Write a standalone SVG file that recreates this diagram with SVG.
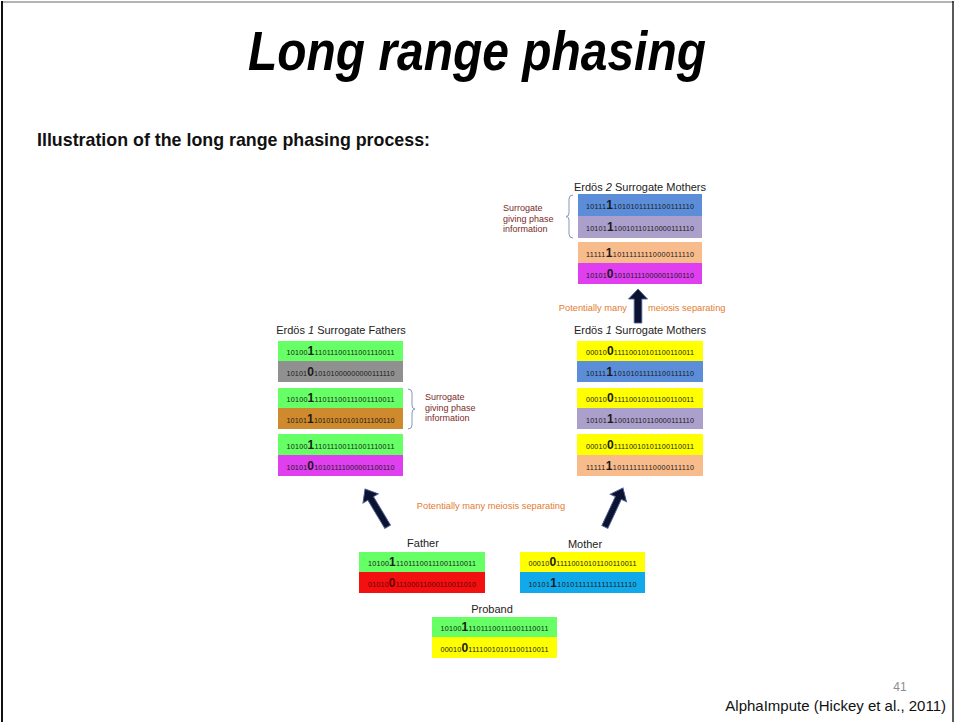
<svg xmlns="http://www.w3.org/2000/svg" width="955" height="722" viewBox="0 0 955 722">
  <defs>
    <style>
      .sans { font-family: "Liberation Sans", Arial, sans-serif; }
      .bits { font-family: "Liberation Sans", Arial, sans-serif; font-size: 7.2px; fill: #1a1a1a; text-anchor: middle; }
      .big { font-size: 12px; font-weight: bold; }
      .head { font-family: "Liberation Sans", Arial, sans-serif; font-size: 11px; fill: #222; text-anchor: middle; }
      .note { font-family: "Liberation Sans", Arial, sans-serif; font-size: 9px; fill: #7a2a2a; }
      .meiosis { font-family: "Liberation Sans", Arial, sans-serif; font-size: 9.3px; fill: #e37b2f; }
      .brace { fill: none; stroke: #8298bb; stroke-width: 1; }
      .arrow { fill: #0b1330; stroke: #4d5f91; stroke-width: 0.9; stroke-linejoin: miter; }
      .green { fill: #66ff66; }
      .gray { fill: #909090; }
      .brown { fill: #cf8a2e; }
      .magenta { fill: #df3fef; }
      .yellow { fill: #ffff00; }
      .steel { fill: #5b8dd9; }
      .lavender { fill: #ab9fcc; }
      .peach { fill: #f8bb8c; }
      .red { fill: #f21010; }
      .cyan { fill: #12a9ea; }
    </style>
  </defs>

  <!-- page frame -->
  <rect x="0" y="0" width="955" height="722" fill="#ffffff"/>
  <line x1="1" y1="2" x2="954" y2="2" stroke="#9a9a9a" stroke-width="1.5"/>
  <line x1="2" y1="1" x2="2" y2="722" stroke="#111" stroke-width="2"/>
  <line x1="953" y1="1" x2="953" y2="722" stroke="#222" stroke-width="1.5"/>

  <!-- headings -->
  <text x="477" y="70" class="sans" font-size="56" font-weight="bold" font-style="italic" text-anchor="middle" textLength="458" lengthAdjust="spacingAndGlyphs" fill="#000">Long range phasing</text>
  <text x="37" y="146" class="sans" font-size="19" font-weight="bold" textLength="393" lengthAdjust="spacingAndGlyphs" fill="#111">Illustration of the long range phasing process:</text>

  <!-- Erdos 2 surrogate mothers -->
  <g id="erdos2-mothers">
    <text x="640" y="191" class="head">Erdös <tspan font-style="italic">2</tspan> Surrogate Mothers</text>
    <rect x="578" y="194" width="124" height="22" class="steel"/>
    <rect x="578" y="216" width="124" height="22" class="lavender"/>
    <rect x="578" y="242" width="124" height="21" class="peach"/>
    <rect x="578" y="263" width="124" height="21" class="magenta"/>
    <text x="640" y="209" class="bits" textLength="108" lengthAdjust="spacing">10111<tspan class="big">1</tspan>10101011111100111110</text>
    <text x="640" y="231" class="bits" textLength="108" lengthAdjust="spacing">10101<tspan class="big">1</tspan>10010110110000111110</text>
    <text x="640" y="256.5" class="bits" textLength="108" lengthAdjust="spacing">11111<tspan class="big">1</tspan>10111111110000111110</text>
    <text x="640" y="277.5" class="bits" textLength="108" lengthAdjust="spacing">10101<tspan class="big">0</tspan>10101111000001100110</text>
    <path class="brace" d="M573 195 Q569 195 569 199 L569 213 Q569 216.5 566 216.5 Q569 216.5 569 220 L569 234 Q569 238 573 238"/>
    <text class="note"><tspan x="503" y="211">Surrogate</tspan><tspan x="503" y="222">giving phase</tspan><tspan x="503" y="232">information</tspan></text>
  </g>

  <!-- Erdos 1 surrogate fathers -->
  <g id="erdos1-fathers">
    <text x="341" y="334" class="head">Erdös <tspan font-style="italic">1</tspan> Surrogate Fathers</text>
    <rect x="278" y="341" width="125" height="20" class="green"/>
    <rect x="278" y="361" width="125" height="21" class="gray"/>
    <rect x="278" y="388" width="125" height="20" class="green"/>
    <rect x="278" y="408" width="125" height="21" class="brown"/>
    <rect x="278" y="434" width="125" height="21" class="green"/>
    <rect x="278" y="455" width="125" height="21" class="magenta"/>
    <text x="340.5" y="355" class="bits" textLength="108" lengthAdjust="spacing">10100<tspan class="big">1</tspan>11011100111001110011</text>
    <text x="340.5" y="375.5" class="bits" textLength="108" lengthAdjust="spacing">10101<tspan class="big">0</tspan>10101000000000111110</text>
    <text x="340.5" y="402" class="bits" textLength="108" lengthAdjust="spacing">10100<tspan class="big">1</tspan>11011100111001110011</text>
    <text x="340.5" y="422.5" class="bits" textLength="108" lengthAdjust="spacing">10101<tspan class="big">1</tspan>10101010101011100110</text>
    <text x="340.5" y="448.5" class="bits" textLength="108" lengthAdjust="spacing">10100<tspan class="big">1</tspan>11011100111001110011</text>
    <text x="340.5" y="469.5" class="bits" textLength="108" lengthAdjust="spacing">10101<tspan class="big">0</tspan>10101111000001100110</text>
    <path class="brace" d="M408 389 Q412 389 412 393 L412 405 Q412 409 415 409 Q412 409 412 413 L412 425 Q412 429 408 429"/>
    <text class="note"><tspan x="425" y="400">Surrogate</tspan><tspan x="425" y="411">giving phase</tspan><tspan x="425" y="421">information</tspan></text>
  </g>

  <!-- Erdos 1 surrogate mothers -->
  <g id="erdos1-mothers">
    <text x="640" y="334" class="head">Erdös <tspan font-style="italic">1</tspan> Surrogate Mothers</text>
    <rect x="577" y="341" width="126" height="20" class="yellow"/>
    <rect x="577" y="361" width="126" height="21" class="steel"/>
    <rect x="577" y="388" width="126" height="20" class="yellow"/>
    <rect x="577" y="408" width="126" height="21" class="lavender"/>
    <rect x="577" y="434" width="126" height="21" class="yellow"/>
    <rect x="577" y="455" width="126" height="21" class="peach"/>
    <text x="640" y="355" class="bits" textLength="108" lengthAdjust="spacing">00010<tspan class="big">0</tspan>11110010101100110011</text>
    <text x="640" y="375.5" class="bits" textLength="108" lengthAdjust="spacing">10111<tspan class="big">1</tspan>10101011111100111110</text>
    <text x="640" y="402" class="bits" textLength="108" lengthAdjust="spacing">00010<tspan class="big">0</tspan>11110010101100110011</text>
    <text x="640" y="422.5" class="bits" textLength="108" lengthAdjust="spacing">10101<tspan class="big">1</tspan>10010110110000111110</text>
    <text x="640" y="448.5" class="bits" textLength="108" lengthAdjust="spacing">00010<tspan class="big">0</tspan>11110010101100110011</text>
    <text x="640" y="469.5" class="bits" textLength="108" lengthAdjust="spacing">11111<tspan class="big">1</tspan>10111111110000111110</text>
  </g>

  <!-- Father -->
  <g id="father">
    <text x="423" y="547" class="head" font-size="11.5">Father</text>
    <rect x="359" y="552" width="126" height="20" class="green"/>
    <rect x="359" y="572" width="126" height="21" class="red"/>
    <text x="422" y="566" class="bits" textLength="108" lengthAdjust="spacing">10100<tspan class="big">1</tspan>11011100111001110011</text>
    <text x="422" y="586.5" class="bits" style="fill:#6a0000" textLength="108" lengthAdjust="spacing">01010<tspan class="big">0</tspan>11100011000110011010</text>
  </g>

  <!-- Mother -->
  <g id="mother">
    <text x="585" y="548" class="head" font-size="11.5">Mother</text>
    <rect x="520" y="552" width="125" height="20" class="yellow"/>
    <rect x="520" y="572" width="125" height="21" class="cyan"/>
    <text x="582.5" y="566" class="bits" textLength="108" lengthAdjust="spacing">00010<tspan class="big">0</tspan>11110010101100110011</text>
    <text x="582.5" y="586.5" class="bits" textLength="108" lengthAdjust="spacing">10101<tspan class="big">1</tspan>10101111111111111110</text>
  </g>

  <!-- Proband -->
  <g id="proband">
    <text x="492" y="613" class="head" font-size="11.5">Proband</text>
    <rect x="432" y="617" width="125" height="20" class="green"/>
    <rect x="432" y="637" width="125" height="21" class="yellow"/>
    <text x="494.5" y="631" class="bits" textLength="108" lengthAdjust="spacing">10100<tspan class="big">1</tspan>11011100111001110011</text>
    <text x="494.5" y="651.5" class="bits" textLength="108" lengthAdjust="spacing">00010<tspan class="big">0</tspan>11110010101100110011</text>
  </g>

  <!-- connectors: generation arrows -->
  <g id="connectors">
    <path class="arrow" transform="translate(365 489) rotate(-31)" d="M0 0 L9 11 L3.3 11 L3.3 44 L-3.3 44 L-3.3 11 L-9 11 Z"/>
    <path class="arrow" transform="translate(623 488) rotate(25)" d="M0 0 L9 11 L3.3 11 L3.3 43 L-3.3 43 L-3.3 11 L-9 11 Z"/>
    <path class="arrow" transform="translate(638 289)" d="M0 0 L9.5 10 L3.8 10 L3.8 34 L-3.8 34 L-3.8 10 L-9.5 10 Z"/>
    <text x="491" y="509" class="meiosis" text-anchor="middle">Potentially many meiosis separating</text>
    <text x="627" y="311" class="meiosis" text-anchor="end">Potentially many</text>
    <text x="648" y="311" class="meiosis">meiosis separating</text>
  </g>

  <!-- footer -->
  <text x="900" y="691" class="sans" font-size="12" fill="#8c8c8c" text-anchor="middle">41</text>
  <text x="946" y="711" class="sans" font-size="15" fill="#111" text-anchor="end">AlphaImpute (Hickey et al., 2011)</text>
</svg>
